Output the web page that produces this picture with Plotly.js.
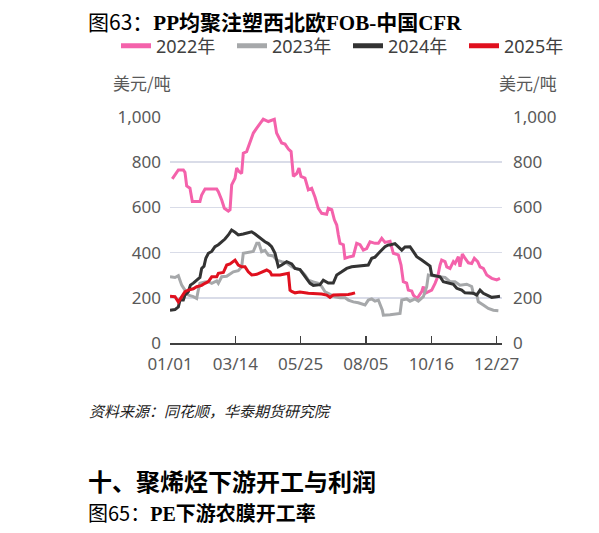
<!DOCTYPE html>
<html>
<head>
<meta charset="utf-8">
<script src="https://cdn.plot.ly/plotly-3.0.1.min.js"></script>
<style>html,body{margin:0;padding:0;background:#fff;}#chart{width:599px;height:533px;}</style>
</head>
<body>
<div id="chart"></div>
<script>
// Day of year (0 = 01/01) and price, USD/ton
const days2022 = [2.5,9.2,14.7,16.5,18.4,22,24.6,33,34.9,38.6,51.5,53.3,57,59.9,64.3,66.2,68,71.7,73.5,76,79,80.8,84.5,88.2,91.9,95.6,101,102.8,108.4,113,115,117.5,123.1,126.8,130.5,133.5,136,139.7,142.2,144.4,148.8,152.5,156.2,159.9,163.5,167.2,172.7,174.5,178.3,181.2,183.8,185.6,187.4,191.1,192.9,198.5,202.1,205.8,209.5,213.1,216.8,220.5,226,229.7,233.4,237,242.6,246.2,251.7,254.7,257.2,260.9,262.7,266.5,268.3,272,273.8,277.5,279.3,281.1,284.8,288.5,292.2,295.1,297.7,299.5,303.2,305.1,308.7,312.4,314.3,317.9,319.7,322.3,325.2,328.9,332.6,335.5,339.2,341.8,345.4,349.2,354.7,360.2,363.8];
const vals2022 = [726,766,766,755,695,685,626,626,655,681,681,670,633,596,584,590,700,729,774,759,750,840,847,885,929,951,980,991,980,985,990,929,885,880,858,847,737,750,774,737,730,678,685,645,596,574,570,596,590,545,522,478,441,435,375,382,385,441,435,411,418,448,441,441,463,445,450,397,390,345,271,265,234,230,212,197,205,227,250,220,227,234,264,293,345,367,360,337,330,360,352,382,337,394,375,355,352,375,360,337,330,301,286,279,286];

const days2023 = [0,5.5,9.2,12.9,16.5,20.2,25.7,29.4,31,33,38.6,42.3,46,51.5,53.3,57,62.5,69.8,75.3,79,80.8,86.3,91.8,95.6,98,101,104.7,108.4,113.9,117.6,121.3,123.1,128.6,134.2,137.8,143.3,148.8,152.5,158,163.5,167.2,170.9,176.4,181.9,187.4,193,196.6,202.1,207.6,213.1,215,218.6,222.4,226,229.7,234.1,235.2,242.6,253.6,255.5,261,264.6,270.1,273.8,279.3,283,284.8,290.3,297.7,303.2,308.7,314.2,319.7,327.1,332.6,334.4,338.1,339.9,345.4,350.9,356.5,362];
const vals2023 = [293,290,298,256,234,212,205,197,230,264,270,271,264,275,264,293,295,315,320,337,397,400,405,441,441,404,410,389,385,367,360,360,355,337,330,325,301,278,270,264,250,227,215,204,200,200,190,182,178,171,168,190,195,185,190,145,123,125,131,190,195,185,195,185,205,249,301,297,293,290,271,271,256,260,250,219,215,182,168,153,145,143];

const days2024 = [0,5.5,9.2,11,14.7,16.5,20.2,22.5,25.7,29.4,33,34.9,37.5,39.5,42.3,46,49.6,53.3,57,60.6,64.3,67.9,71.7,75.3,80.8,86.3,90,93.7,97.4,101,104.7,108.4,112,115.8,119.4,123.1,128.6,134.2,137.8,143.3,148.8,154.4,158,165.4,169,174.5,180,183.8,189.3,194.8,200.3,207.6,213.1,218.6,222.4,226,231.5,237,240.7,242.6,248,251.7,255.5,259.1,264.6,268.3,272,277.5,283,286.7,288.5,294,297.7,301.3,306.9,312.4,316.1,321.6,325.2,328.9,334.4,338.1,341.8,345.4,349.1,354.7,360.2,363.8];
const vals2024 = [145,148,160,190,190,212,227,256,265,278,290,330,340,375,397,405,426,435,448,460,478,500,490,478,482,488,492,482,470,462,448,440,426,397,337,345,360,350,330,325,293,264,255,258,278,265,265,301,315,330,337,340,345,345,375,380,404,426,434,434,440,426,411,425,426,404,382,367,352,340,301,297,293,271,265,260,242,234,222,222,220,212,234,220,212,202,205,207];

const days2025 = [0,5.5,9.2,12.9,16.5,20.2,25.7,29.4,34.9,38.6,42.3,46,51.5,53.3,58.8,62.5,66.2,71.7,75.3,79,82.7,86.3,90.1,95.6,101,106.6,110.3,112.1,121.3,128.6,130.5,132.3,134.2,137.8,143.3,152.5,159.9,167.2,172.7,176.4,180,185.6,193,196.6,200.3,204];
const vals2025 = [207,205,182,204,227,234,240,249,255,264,272,293,293,308,312,345,350,367,345,337,337,315,301,304,315,323,315,301,301,305,308,234,228,222,226,220,219,217,212,202,212,212,212,215,218,222];

const seriesNames = ['2022年','2023年','2024年','2025年'];
const seriesColors = ['#F462AB','#A6A8AA','#333333','#E0101E'];
const tickDays = [0,72,144,216,288,360,365];
const tickLabels = ['01/01','03/14','05/25','08/05','10/16','12/27',''];
const yTicks = [0,200,400,600,800,1000];

const W = 599, H = 533;
const px = v => v / W;
const py = v => 1 - v / H;
const tickFont = {family:'Noto Sans, Noto Sans CJK SC, sans-serif', size:17, color:'#595959'};

const allDays = [days2022, days2023, days2024, days2025];
const allVals = [vals2022, vals2023, vals2024, vals2025];
const traces = allDays.map((d, i) => ({
  type:'scatter', mode:'lines', x:d, y:allVals[i], name:seriesNames[i],
  line:{color:seriesColors[i], width:3}, hoverinfo:'skip', showlegend:false, legendgroup:seriesNames[i]
}));
// legend entries (thicker swatch, as in the reference)
seriesNames.forEach((n, i) => traces.push({
  type:'scatter', mode:'lines', x:[null], y:[null], name:n, legendgroup:n,
  line:{color:seriesColors[i], width:5}, hoverinfo:'skip', showlegend:true
}));
// right-axis companion (same data, invisible) so the mirrored axis is drawn
traces.push({type:'scatter', mode:'lines', x:days2025, y:vals2025, yaxis:'y2',
  line:{color:'rgba(0,0,0,0)', width:0}, showlegend:false, hoverinfo:'skip'});

const serif = 'font-family:Liberation Serif, DejaVu Serif, serif';
const layout = {
  width:W, height:H,
  margin:{l:0, r:0, t:0, b:0},
  paper_bgcolor:'#fff', plot_bgcolor:'#fff',
  showlegend:true,
  legend:{orientation:'h', x:px(116), y:py(46), xanchor:'left', yanchor:'middle',
    font:{family:'Noto Sans, Noto Sans CJK SC, sans-serif', size:18, color:'#404040'},
    bgcolor:'rgba(0,0,0,0)', traceorder:'normal', itemwidth:30,
    entrywidth:71, entrywidthmode:'pixels'},
  xaxis:{domain:[px(170), px(502)], range:[0,366], tickmode:'array', tickvals:tickDays, ticktext:tickLabels,
    showgrid:false, zeroline:false, showline:true, linecolor:'#404040', linewidth:1.5,
    ticks:'inside', ticklen:7, tickwidth:1.5, tickcolor:'#404040', tickfont:tickFont, ticklabelstandoff:5, fixedrange:true},
  yaxis:{domain:[1-343/H, 1-117/H], range:[0,1000], tickmode:'array', tickvals:yTicks, tickformat:',',
    showgrid:true, gridcolor:'#D9DCE8', gridwidth:1.5, zeroline:false, showline:false, ticks:'',
    tickfont:tickFont, ticklabelstandoff:8, fixedrange:true},
  yaxis2:{overlaying:'y', side:'right', anchor:'x', range:[0,1000], tickmode:'array', tickvals:yTicks, tickformat:',',
    showgrid:false, zeroline:false, showline:false, ticks:'', tickfont:tickFont, ticklabelstandoff:10, fixedrange:true},
  annotations:[
    {xref:'paper', yref:'paper', x:px(86), y:py(21), xanchor:'left', yanchor:'middle', showarrow:false,
      text:'图63：<b><span style="'+serif+'">PP</span>均聚注塑西北欧<span style="'+serif+'">FOB-</span>中国<span style="'+serif+'">CFR</span></b>',
      font:{family:'Noto Sans CJK SC, sans-serif', size:21, color:'#000'}},
    {xref:'paper', yref:'paper', x:px(111), y:py(82), xanchor:'left', yanchor:'middle', showarrow:false,
      text:'美元/吨', font:{family:'Noto Sans CJK SC, sans-serif', size:17, color:'#595959'}},
    {xref:'paper', yref:'paper', x:px(497), y:py(82), xanchor:'left', yanchor:'middle', showarrow:false,
      text:'美元/吨', font:{family:'Noto Sans CJK SC, sans-serif', size:17, color:'#595959'}},
    {xref:'paper', yref:'paper', x:px(87), y:py(410), xanchor:'left', yanchor:'middle', showarrow:false,
      text:'<i>资料来源：同花顺，华泰期货研究院</i>', font:{family:'Noto Sans CJK SC, sans-serif', size:15, color:'#222'}},
    {xref:'paper', yref:'paper', x:px(86), y:py(480), xanchor:'left', yanchor:'middle', showarrow:false,
      text:'<b>十、聚烯烃下游开工与利润</b>', font:{family:'Noto Sans CJK SC, sans-serif', size:24, color:'#000'}},
    {xref:'paper', yref:'paper', x:px(86), y:py(512), xanchor:'left', yanchor:'middle', showarrow:false,
      text:'图65：<b><span style="'+serif+'">PE</span>下游农膜开工率</b>',
      font:{family:'Noto Sans CJK SC, sans-serif', size:20, color:'#000'}}
  ]
};
Plotly.newPlot('chart', traces, layout, {displayModeBar:false, staticPlot:true});
</script>
</body>
</html>
